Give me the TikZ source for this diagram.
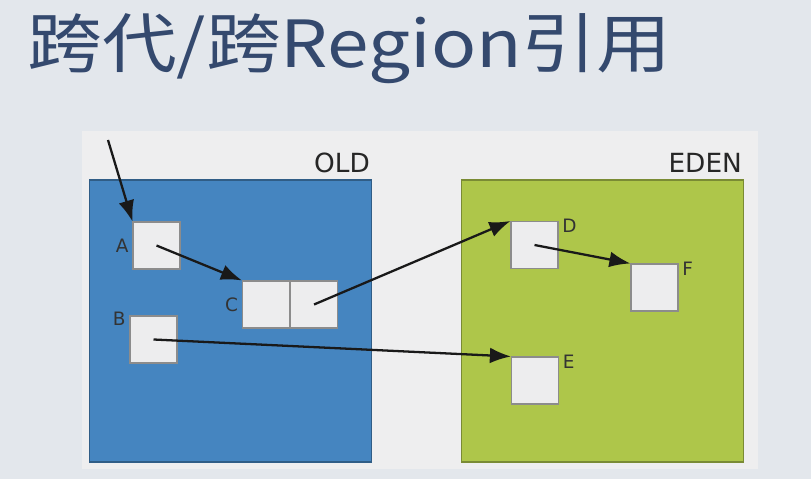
\documentclass[tikz,border=0pt]{standalone}
\usepackage{fontspec}
\setmainfont{DejaVu Sans}
\newfontfamily\cjkfont{Noto Sans CJK SC}
\usetikzlibrary{positioning, arrows.meta}

\definecolor{slidebg}{HTML}{E3E7EC}
\definecolor{panelbg}{HTML}{EEEEEF}
\definecolor{oldblue}{HTML}{4585C0}
\definecolor{edengreen}{HTML}{AEC64A}
\definecolor{titleblue}{HTML}{34496E}
\definecolor{cellgray}{HTML}{EDEDEE}

\tikzset{
  cell/.style={draw=black!45, fill=cellgray, minimum size=0.94cm, inner sep=0pt, line width=0.6pt},
  region/.style={minimum width=5.64cm, minimum height=5.64cm, inner sep=0pt, line width=0.6pt},
  regionlabel/.style={font=\fontsize{15}{17}\selectfont, text=black!85, inner sep=0pt},
  celllabel/.style={font=\fontsize{10.5}{12}\selectfont, text=black!80, inner sep=1pt},
  ref/.style={-{Latex[length=12pt, width=9pt]}, line width=1.3pt, black!90}
}

\begin{document}
\begin{tikzpicture}[x=0.02cm, y=-0.02cm]
  % background
  \fill[slidebg] (0,0) rectangle (811,479);
  \useasboundingbox (0,0) rectangle (811,479);
  \fill[panelbg] (82,131) rectangle (758,469);

  % title
  \node[anchor=base west, inner sep=0pt, text=titleblue, xscale=1.15, transform shape,
        font=\cjkfont\fontsize{37}{42}\selectfont] (title) at (27,68) {跨代/跨Region引用};

  % regions
  \node[region, draw=oldblue!70!black, fill=oldblue] (old) at (230.5,321) {};
  \node[region, draw=edengreen!70!black, fill=edengreen] (eden) at (602.5,321) {};
  \node[regionlabel, anchor=base east] (oldlabel) at ([xshift=-1pt, yshift=4pt]old.north east) {OLD};
  \node[regionlabel, anchor=base east] (edenlabel) at ([xshift=-1pt, yshift=4pt]eden.north east) {EDEN};

  % objects in OLD
  \node[cell] (a) at (156.5,245.5) {};
  \node[cell] (c1) at (266,304.5) {};
  \node[cell, right=0pt of c1] (c2) {};
  \node[cell] (b) at (153.5,339.5) {};
  \node[celllabel, left=1pt of a] {A};
  \node[celllabel, left=1pt of c1] {C};
  \node[celllabel, above left=-7pt and 1pt of b] {B};

  % objects in EDEN
  \node[cell] (d) at (534.5,245) {};
  \node[cell] (f) at (654.5,287.5) {};
  \node[cell] (e) at (535,380.5) {};
  \node[celllabel, above right=-8pt and 1pt of d] {D};
  \node[celllabel, above right=-8pt and 1pt of f] {F};
  \node[celllabel, above right=-8pt and 1pt of e] {E};

  % references
  \coordinate (root) at (108,140);
  \draw[ref] (root) -- (a.north west);
  \draw[ref] (a.center) -- (c1.north west);
  \draw[ref] (c2.center) -- (d.north west);
  \draw[ref] (d.center) -- (f.north west);
  \draw[ref] (b.center) -- (e.north west);
\end{tikzpicture}
\end{document}
